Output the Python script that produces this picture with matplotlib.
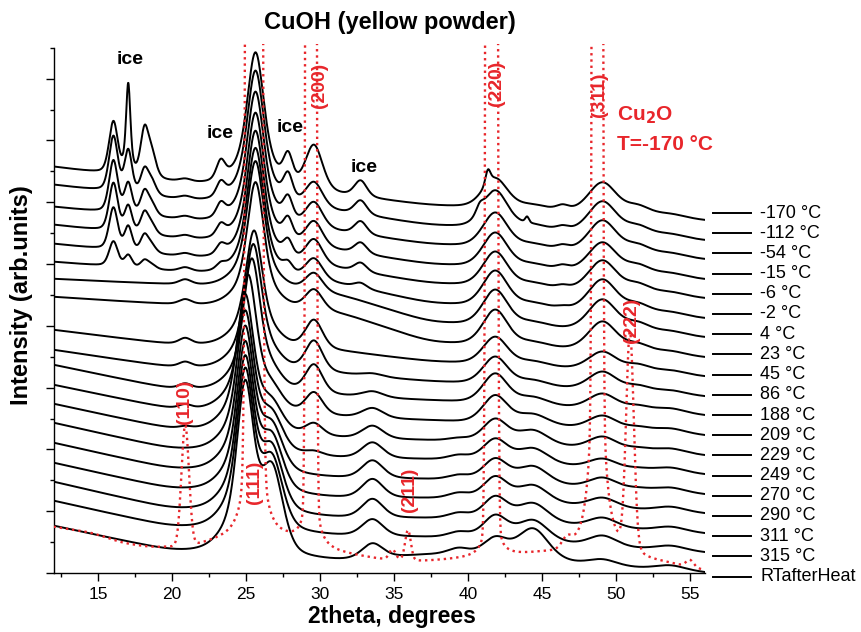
import numpy as np
import matplotlib
matplotlib.use('Agg')
import matplotlib.pyplot as plt
from matplotlib.ticker import MultipleLocator
from matplotlib.lines import Line2D

plt.rcParams['font.family'] = ['Liberation Sans', 'DejaVu Sans']

# scans, top to bottom
labels = ['-170 °C', '-112 °C', '-54 °C', '-15 °C', '-6 °C', '-2 °C', '4 °C', '23 °C',
          '45 °C', '86 °C', '188 °C', '209 °C', '229 °C', '249 °C', '270 °C', '290 °C',
          '311 °C', '315 °C', 'RTafterHeat']

# background level of each (already stacked) scan at 12, 20, 31.5, 37.5 and 56 degrees
base_x = [12, 20, 31.5, 37.5, 56]
y_start = [406, 388, 366, 348, 329, 311, 294, 276, 243, 223, 208, 188, 169, 150, 130, 110, 91, 72, 47]
y_dip = [390, 373, 353, 334, 316, 301, 288, 268, 228, 205, 183, 163, 143, 123, 103, 83, 63, 45, 21]
y_31 = [377, 360, 340, 321, 303, 288, 277, 259, 221, 198, 176, 155, 134, 114, 94, 74, 54, 36, 11]
y_37 = [367, 347, 328, 308, 289, 269, 250, 230, 211, 191, 172, 152, 132, 113, 93, 74, 54, 35, 18]
y_end = [352, 332, 313, 293, 274, 254, 235, 215, 196, 176, 157, 137, 117, 98, 78, 59, 39, 20, 0]

# position of the strongest reflection in each scan
main_pos = [25.65, 25.65, 25.65, 25.65, 25.65, 25.65, 25.65, 25.65,
            25.55, 25.5, 25.4, 25.15, 24.95, 24.95, 24.95, 24.95, 24.95, 24.95, 24.95]

# reflections (None = strongest reflection, narrow and broad part)
peak_pos = [16.05, 17.05, 17.05, 18.15, 18.65, 20.9, 23.3, None, None, 26.8, 27.85, 29.6,
            32.75, 33.55, 39.4, 40.8, 41.35, 41.85, 44.0, 44.4, 46.4, 49.1, 51.5, 53.7]
peak_fwhm = [0.7, 0.6, 0.32, 0.65, 0.7, 1.0, 0.7, 1.25, 3.0, 1.7, 0.75, 1.4,
             1.0, 1.7, 1.8, 0.6, 0.4, 2.0, 0.3, 2.5, 1.0, 2.3, 2.0, 2.5]

heights = [
    [52, 22, 68, 46, 22, 3, 18, 104, 32, 0, 27, 46, 16, 0, 0, 0, 14, 30, 0, 5, 5, 32, 9, 4],
    [55, 42, 0, 24, 13, 3, 14, 104, 31, 0, 25, 26, 14, 0, 0, 8, 0, 38, 6, 5, 4, 33, 9, 4],
    [52, 30, 0, 23, 11, 3, 13, 103, 31, 0, 22, 26, 13, 0, 0, 0, 0, 35, 0, 5, 4, 33, 9, 4],
    [48, 26, 0, 21, 9, 3, 11, 102, 30, 0, 20, 26, 11, 0, 0, 0, 0, 35, 0, 5, 4, 31, 9, 4],
    [42, 24, 0, 17, 7, 3, 9, 102, 30, 0, 16, 26, 9, 0, 0, 0, 0, 35, 0, 5, 3, 32, 9, 4],
    [25, 12, 0, 8, 4, 4, 5, 100, 30, 0, 9, 22, 5, 0, 0, 0, 0, 36, 0, 5, 2, 33, 9, 4],
    [0, 0, 0, 0, 0, 5, 0, 99, 30, 0, 0, 19, 0, 0, 0, 0, 0, 36, 0, 5, 0, 32, 9, 4],
    [0, 0, 0, 0, 0, 5, 0, 98, 29, 0, 0, 21, 0, 0, 0, 0, 0, 36, 0, 5, 0, 30, 8, 4],
    [0, 0, 0, 0, 0, 6, 0, 88, 29, 2, 0, 29, 0, 0, 0, 0, 0, 28, 0, 5, 0, 19, 7, 4],
    [0, 0, 0, 0, 0, 5, 0, 94, 32, 4, 0, 31, 0, 3, 0, 0, 0, 28, 0, 6, 0, 19, 6, 4],
    [0, 0, 0, 0, 0, 5, 0, 99, 34, 8, 0, 29, 0, 6, 0, 0, 0, 30, 0, 8, 0, 16, 5, 5],
    [0, 0, 0, 0, 0, 4, 0, 102, 35, 14, 0, 22, 0, 10, 0, 0, 0, 28, 0, 11, 0, 14, 4, 5],
    [0, 0, 0, 0, 0, 2, 0, 103, 35, 21, 0, 12, 0, 13, 3, 0, 0, 24, 0, 15, 0, 13, 3, 5],
    [0, 0, 0, 0, 0, 0, 0, 105, 36, 29, 0, 4, 0, 16, 5, 0, 0, 23, 0, 16, 0, 10, 2, 5],
    [0, 0, 0, 0, 0, 0, 0, 108, 37, 37, 0, 0, 0, 18, 5, 0, 0, 23, 0, 18, 0, 11, 2, 5],
    [0, 0, 0, 0, 0, 0, 0, 111, 38, 45, 0, 0, 0, 19, 6, 0, 0, 24, 0, 18, 0, 10, 0, 5],
    [0, 0, 0, 0, 0, 0, 0, 114, 40, 53, 0, 0, 0, 19, 6, 0, 0, 24, 0, 20, 0, 10, 0, 5],
    [0, 0, 0, 0, 0, 0, 0, 118, 41, 60, 0, 0, 0, 17, 6, 0, 0, 24, 0, 22, 0, 11, 0, 5],
    [0, 0, 0, 0, 0, 0, 0, 126, 44, 74, 0, 0, 0, 15, 7, 0, 0, 19, 0, 32, 0, 6, 0, 5],
]

# Cu2O reference at -170 °C (red dotted)
cu2o_base_x = [12, 14.6, 16.5, 18.5, 19.9, 21.6, 22.4, 23.2, 28.1, 30.7, 34.0, 37.0, 45.0, 53.3, 56]
cu2o_base_y = [46, 40, 30, 25, 25, 26, 28, 30, 30, 20, 13, 11, 18, 9, 2]
cu2o_pos = [20.9, 25.55, 29.4, 34.9, 35.95, 41.6, 46.7, 48.75, 50.95, 55.0]
cu2o_g_h = [120, 50000, 50000, 10, 30, 50000, 10, 50000, 195, 7]
cu2o_g_fw = [0.6, 0.47, 0.31, 0.5, 0.45, 0.34, 0.8, 0.3, 0.6, 0.6]
cu2o_l_h = [0, 265, 120, 0, 0, 100, 0, 300, 25, 0]
cu2o_l_fw = [1, 0.8, 0.6, 1, 1, 0.6, 1, 0.8, 0.8, 1]
cu2o_hkl = ['(110)', '(111)', '(200)', '(211)', '(220)', '(311)', '(222)']
cu2o_hkl_xy = [(20.85, 171), (25.6, 91), (29.97, 488), (36.05, 83), (41.93, 490), (48.9, 478), (51.05, 253)]

ETA = 0.35  # Lorentzian fraction of the black profiles


def gauss(x, c, fw):
    return np.exp(-4 * np.log(2) * ((x - c) / fw) ** 2)


def lorentz(x, c, fw):
    return 1 / (1 + 4 * ((x - c) / fw) ** 2)


def smooth_background(x, xp, yp, sigma):
    b = np.interp(x, xp, yp)
    dx = x[1] - x[0]
    n = int(4 * sigma / dx)
    k = np.exp(-0.5 * (np.arange(-n, n + 1) * dx / sigma) ** 2)
    k /= k.sum()
    bp = np.pad(b, n, mode='reflect', reflect_type='odd')
    return np.convolve(bp, k, mode='valid')


x = np.linspace(12, 56, 2201)

fig = plt.figure(figsize=(8.61, 6.32), dpi=100)
ax = fig.add_axes([53.5 / 861, 59 / 632, (704.7 - 53.5) / 861, 529 / 632])

for i in range(len(labels)):
    anchors = [y_start[i], y_dip[i], y_31[i], y_37[i], y_end[i]]
    y = smooth_background(x, base_x, anchors, 1.0)
    for j, h in enumerate(heights[i]):
        if h == 0:
            continue
        c = peak_pos[j] if peak_pos[j] is not None else main_pos[i]
        fw = peak_fwhm[j]
        y = y + h * ((1 - ETA) * gauss(x, c, fw) + ETA * lorentz(x, c, fw))
    ax.plot(x, y, color='black', lw=1.4, zorder=2)

yr = smooth_background(x, cu2o_base_x, cu2o_base_y, 0.5)
for c, gh, gf, lh, lf in zip(cu2o_pos, cu2o_g_h, cu2o_g_fw, cu2o_l_h, cu2o_l_fw):
    yr = yr + gh * gauss(x, c, gf) + lh * lorentz(x, c, lf)
red = '#e8262b'
ax.plot(x, yr, color=red, lw=1.7, ls=':', zorder=3)

for t, (tx, ty) in zip(cu2o_hkl, cu2o_hkl_xy):
    ax.text(tx, ty, t, color=red, fontsize=14, fontweight='bold', rotation=90,
            ha='center', va='center', zorder=4)

ax.text(617 / 861, 1 - 115 / 632, 'Cu$_\\mathbf{2}$O', transform=fig.transFigure, color=red,
        fontsize=15, fontweight='bold', ha='left', va='center')
ax.text(617 / 861, 1 - 144 / 632, 'T=-170 °C', transform=fig.transFigure, color=red,
        fontsize=15, fontweight='bold', ha='left', va='center')

for tx, ty in [(130, 60), (220, 134), (290, 127), (364, 168)]:
    fig.text(tx / 861, 1 - ty / 632, 'ice', fontsize=14, fontweight='bold',
             ha='center', va='center')

ax.set_xlim(12, 56)
ax.set_ylim(0, 529)
ax.xaxis.set_major_locator(MultipleLocator(5))
ax.xaxis.set_minor_locator(MultipleLocator(2.5))
ax.yaxis.set_major_locator(MultipleLocator(61.8))
ax.yaxis.set_minor_locator(MultipleLocator(30.9))
ax.set_yticklabels([])
ax.tick_params(which='major', direction='out', length=6, width=1.0, labelsize=12.5, pad=4)
ax.tick_params(which='minor', direction='out', length=3, width=1.0)
ax.spines['top'].set_visible(False)
ax.spines['right'].set_visible(False)
ax.spines['left'].set_bounds(0, 525)
for s in ['left', 'bottom']:
    ax.spines[s].set_linewidth(1.0)

fig.text(390 / 861, 1 - 22 / 632, 'CuOH (yellow powder)', fontsize=17, fontweight='bold',
         ha='center', va='center')
fig.text(392 / 861, 1 - 617 / 632, '2theta, degrees', fontsize=16.5, fontweight='bold',
         ha='center', va='center')
fig.text(22 / 861, 1 - 295 / 632, 'Intensity (arb.units)', fontsize=17, fontweight='bold',
         ha='center', va='center', rotation=90)

# legend on the right
for k, lab in enumerate(labels):
    py = 213 + 20.2 * k
    fig.add_artist(Line2D([713 / 861, 751 / 861], [1 - py / 632, 1 - py / 632],
                          color='black', lw=1.4))
    fig.text(760 / 861, 1 - py / 632, lab, fontsize=13, ha='left', va='center')

fig.savefig('out.png', dpi=100)
